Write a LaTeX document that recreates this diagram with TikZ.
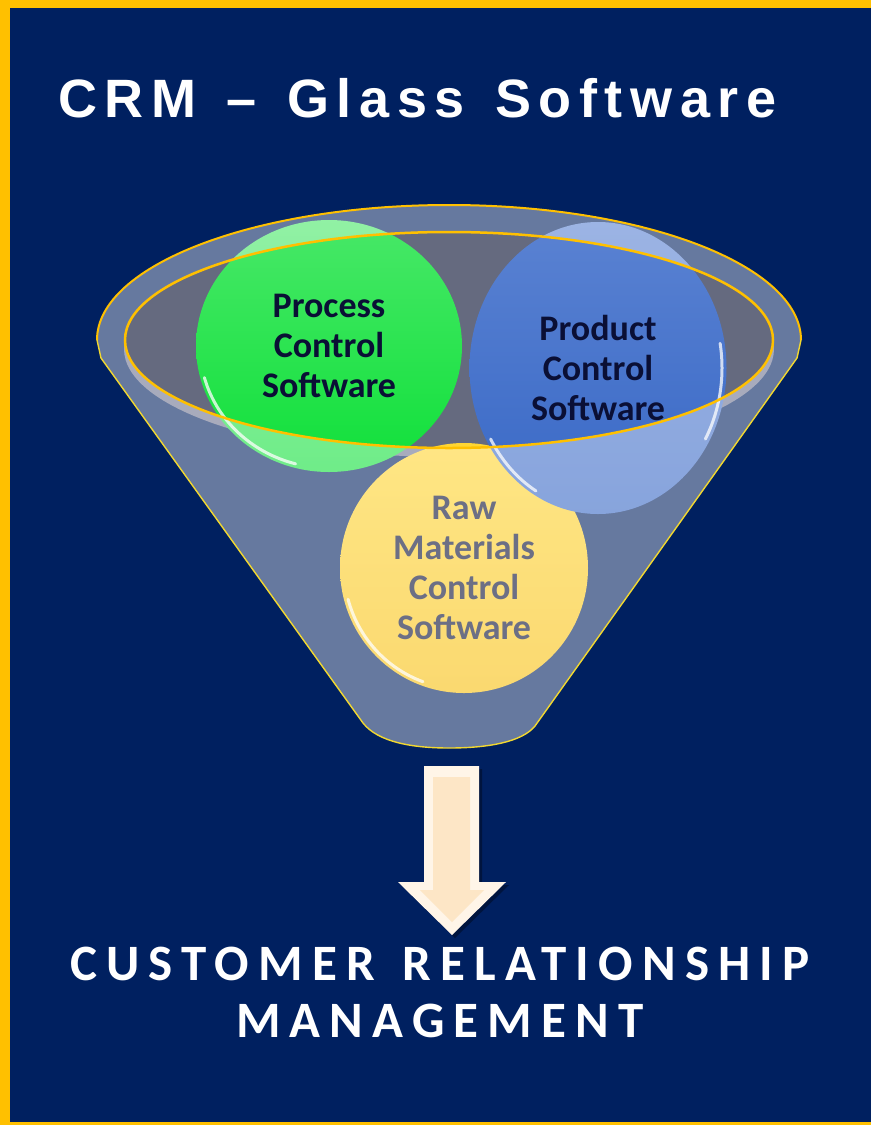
\documentclass[tikz,border=0pt]{standalone}
\usepackage{fontspec}
\setmainfont{Carlito}
\newfontfamily\titlefont[LetterSpace=14]{Liberation Sans}
\newfontfamily\crmfont[LetterSpace=18]{Carlito}
\usetikzlibrary{shapes.geometric,positioning}

\definecolor{navy}{HTML}{002060}
\definecolor{gold}{HTML}{FFC000}
\definecolor{lemon}{HTML}{F2D830}
\definecolor{openinggray}{HTML}{656A7F}
\definecolor{rimgray}{HTML}{6E7490}
\definecolor{ballink}{HTML}{0A0F35}
\definecolor{cream}{HTML}{FDE6C6}
\definecolor{creamlight}{HTML}{FFF5E8}

\tikzset{
  ball/.style={ellipse, inner sep=0pt, align=center, text=ballink,
    font=\bfseries\fontsize{36}{40}\selectfont},
  gloss/.style={white, line width=3pt, line cap=round, opacity=0.75},
  rimline/.style={draw=gold, line width=2pt},
  sideline/.style={draw=lemon, line width=1.4pt},
  crmtext/.style={anchor=base, inner sep=0pt, text=white,
    font=\crmfont\bfseries\fontsize{51}{60}\selectfont}
}

\begin{document}
\begin{tikzpicture}[x=1pt,y=-1pt]
\useasboundingbox (0,0) rectangle (871,1125);
\fill[gold] (0,0) rectangle (871,1125);
\fill[navy] (10,8) rectangle (871,1122);

\node (title) at (58,117) [anchor=base west, inner sep=0pt, text=white,
  font=\titlefont\bfseries\fontsize{54}{60}\selectfont]
  {CRM\hspace{8pt} –\hspace{8pt} Glass\hspace{8pt} Software};

% opening of the funnel, behind the balls
\fill[rimgray] (449,349) ellipse[x radius=325, y radius=108];
\fill[openinggray] (449,340) ellipse[x radius=324, y radius=108];

\node (raw) at (464,568) [ball, minimum width=248pt, minimum height=250pt,
  top color=yellow!60!orange!80!white, bottom color={rgb,255:red,248;green,192;blue,17}]
  {Raw\\Materials\\Control\\Software};
\node (process) at (329,346) [ball, minimum width=266pt, minimum height=252pt,
  top color={rgb,255:red,72;green,232;blue,104}, bottom color={rgb,255:red,16;green,224;blue,58}]
  {Process\\Control\\Software};
\node (product) at (598,368) [ball, minimum width=257pt, minimum height=292pt,
  top color={rgb,255:red,90;green,130;blue,210}, bottom color={rgb,255:red,56;green,104;blue,198}]
  {Product\\Control\\Software};

\draw[gloss] (raw.center) ++(110:120 and 121) arc[start angle=110, end angle=165, x radius=120, y radius=121];
\draw[gloss] (process.center) ++(105:129 and 122) arc[start angle=105, end angle=165, x radius=129, y radius=122];
\draw[gloss] (product.center) ++(-10:124 and 142) arc[start angle=-10, end angle=30, x radius=124, y radius=142];
\draw[gloss] (product.center) ++(120:124 and 142) arc[start angle=120, end angle=150, x radius=124, y radius=142];

% glass of the funnel
\fill[white, fill opacity=0.4, even odd rule] (97,340) -- (101,358) -- (363,723)
  .. controls (378,742) and (412,748) .. (449,748)
  .. controls (488,748) and (522,742) .. (535,726) -- (797,358) -- (801,340)
  arc[start angle=0, end angle=-180, x radius=352, y radius=135] -- cycle
  (449,340) ellipse[x radius=324, y radius=108];
\draw[sideline] (97,340) -- (101,358) -- (363,723)
  .. controls (378,742) and (412,748) .. (449,748)
  .. controls (488,748) and (522,742) .. (535,726) -- (797,358) -- (801,340);
\draw[rimline] (801,340) arc[start angle=0, end angle=-180, x radius=352, y radius=135];
\draw[rimline, line width=2.5pt] (449,340) ellipse[x radius=324, y radius=108];

% arrow
\coordinate (arrowtop) at (452,766);
\coordinate (arrowtip) at (452,935);
\fill[black, opacity=0.35] (427,769) -- (482,769) -- (482,885) -- (509,885) -- (455,938) -- (401,885) -- (427,885) -- cycle;
\fill[creamlight] (424,766) -- (479,766) -- (479,882) -- (506,882) -- (arrowtip) -- (398,882) -- (424,882) -- cycle;
\fill[cream] (433,777) -- (470,777) -- (470,890) -- (484,890) -- (452,922) -- (420,890) -- (433,890) -- cycle;

\node (crm) at (440,980) [crmtext] {CUSTOMER\hspace{7pt} RELATIONSHIP};
\node (mgmt) at (440,1037) [crmtext] {MANAGEMENT};
\end{tikzpicture}
\end{document}
